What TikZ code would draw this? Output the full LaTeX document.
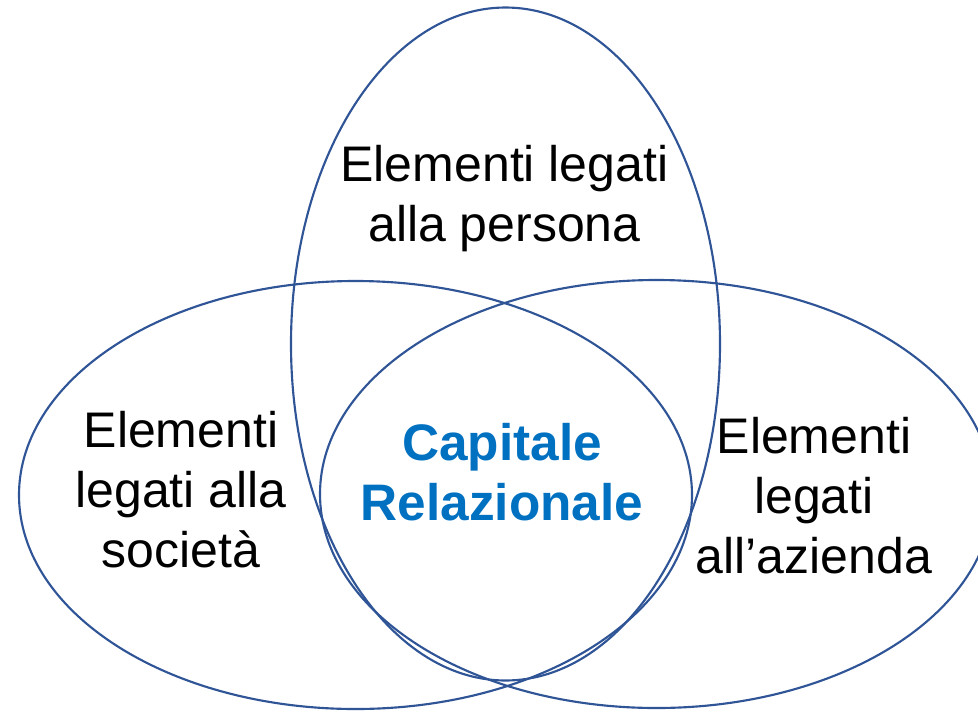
\documentclass[tikz,border=0pt]{standalone}
\usepackage{fontspec}
\setmainfont{Liberation Sans}
\usepackage{tikz}

\begin{document}
\begin{tikzpicture}[x=0.75pt, y=-0.75pt]
	\definecolor{cLine}{HTML}{2F5597}
	\definecolor{cCentre}{HTML}{0070C0}
	\tikzset{
		label text/.style={align=center, anchor=base, inner sep=0pt, font=\fontsize{37.5}{45}\selectfont},
		centre text/.style={label text, text=cCentre, font=\fontsize{38.5}{45}\selectfont\bfseries}
	}

	\useasboundingbox (0,0) rectangle (978,711);
	\clip (0,0) rectangle (978,711);

	\draw[cLine, line width=1.6] (505.5,344) ellipse [x radius=214.5, y radius=336.5];
	\draw[cLine, line width=1.6] (355.5,495) ellipse [x radius=336.5, y radius=214];
	\draw[cLine, line width=1.6] (656.5,494) ellipse [x radius=336.5, y radius=214];

	% base anchor sits on the last line
	\node[label text] (persona) at (504.5,241) {Elementi legati\\alla persona};
	\node[label text] (societa) at (181,567) {Elementi\\legati alla\\società};
	\node[label text] (azienda) at (814,573) {Elementi\\legati\\all’azienda};
	\node[centre text] (capitale) at (502,520) {Capitale\\Relazionale};
\end{tikzpicture}
\end{document}
